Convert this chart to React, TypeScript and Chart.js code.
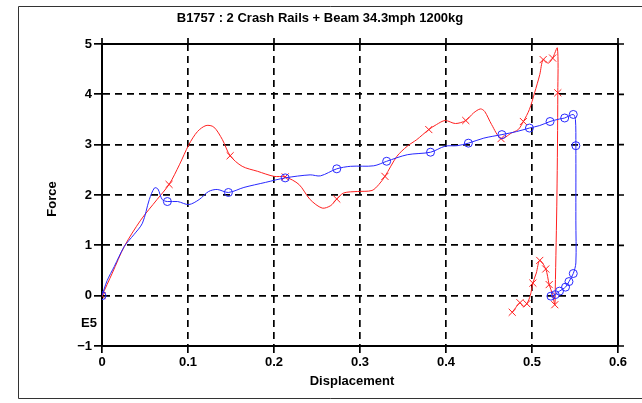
import React, { useEffect, useRef } from 'react';
import { Chart, registerables } from 'chart.js';

Chart.register(...registerables);

const TITLE = 'B1757 : 2 Crash Rails + Beam 34.3mph 1200kg';
const X_LABEL = 'Displacement';
const Y_LABEL = 'Force';
const Y_EXP = 'E5';

const xTickValues = [0, 0.1, 0.2, 0.3, 0.4, 0.5, 0.6];
const xTickLabels = ['0', '0.1', '0.2', '0.3', '0.4', '0.5', '0.6'];
const yTickValues = [-1, 0, 1, 2, 3, 4, 5];
const yTickLabels = ['\u22121', '0', '1', '2', '3', '4', '5'];

// Red series (crosses)
const redX = [0, 0.012, 0.026, 0.045, 0.064, 0.078, 0.09, 0.101, 0.111, 0.121, 0.13, 0.14, 0.149, 0.163, 0.181, 0.2, 0.213, 0.229, 0.242, 0.256, 0.266, 0.273, 0.281, 0.297, 0.314, 0.322, 0.329, 0.343, 0.355, 0.366, 0.38, 0.389, 0.399, 0.411, 0.423, 0.432, 0.44, 0.445, 0.453, 0.464, 0.476, 0.484, 0.49, 0.497, 0.503, 0.509, 0.513, 0.519, 0.524, 0.5295, 0.53, 0.529, 0.527, 0.5265, 0.524, 0.52, 0.516, 0.509, 0.505, 0.501, 0.498, 0.494, 0.49, 0.486, 0.481, 0.477];
const redY = [0, 0.45, 0.98, 1.5, 1.91, 2.21, 2.6, 3.0, 3.26, 3.38, 3.35, 3.1, 2.78, 2.57, 2.47, 2.37, 2.36, 2.21, 1.91, 1.74, 1.79, 1.92, 2.04, 2.07, 2.09, 2.21, 2.37, 2.77, 2.97, 3.1, 3.3, 3.4, 3.48, 3.42, 3.48, 3.63, 3.71, 3.66, 3.4, 3.12, 3.23, 3.3, 3.46, 3.7, 4.03, 4.39, 4.69, 4.62, 4.72, 4.92, 4.03, 2.0, 0.1, -0.18, 0.02, 0.22, 0.53, 0.7, 0.45, 0.25, 0.0, -0.16, -0.22, -0.14, -0.24, -0.33];
const redMark = [1, 0, 0, 0, 0, 1, 0, 0, 0, 0, 0, 0, 1, 0, 0, 0, 1, 0, 0, 0, 0, 1, 0, 0, 0, 0, 1, 0, 0, 0, 1, 0, 0, 0, 1, 0, 0, 0, 0, 1, 0, 0, 1, 0, 0, 0, 1, 0, 1, 0, 1, 0, 0, 1, 0, 1, 1, 1, 0, 1, 0, 1, 0, 1, 0, 1];

// Blue series (circles)
const blueX = [0, 0.006, 0.0143, 0.026, 0.037, 0.047, 0.055, 0.061, 0.065, 0.07, 0.076, 0.088, 0.101, 0.113, 0.124, 0.134, 0.147, 0.165, 0.19, 0.213, 0.242, 0.254, 0.273, 0.289, 0.316, 0.331, 0.355, 0.382, 0.399, 0.413, 0.426, 0.444, 0.465, 0.482, 0.497, 0.509, 0.521, 0.532, 0.538, 0.548, 0.5505, 0.551, 0.551, 0.551, 0.548, 0.543, 0.539, 0.532, 0.527, 0.522];
const blueY = [0, 0.3, 0.58, 0.98, 1.21, 1.44, 1.91, 2.14, 2.12, 1.91, 1.87, 1.87, 1.81, 1.91, 2.07, 2.11, 2.05, 2.15, 2.25, 2.34, 2.4, 2.38, 2.52, 2.57, 2.58, 2.67, 2.8, 2.85, 2.97, 2.98, 3.03, 3.13, 3.2, 3.26, 3.33, 3.38, 3.46, 3.51, 3.53, 3.6, 3.5, 2.98, 1.5, 0.65, 0.44, 0.28, 0.17, 0.09, 0.02, -0.01];
const blueMark = [1, 0, 0, 0, 0, 0, 0, 0, 0, 0, 1, 0, 0, 0, 0, 0, 1, 0, 0, 1, 0, 0, 1, 0, 0, 1, 0, 1, 0, 0, 1, 0, 1, 0, 1, 0, 1, 0, 1, 1, 0, 1, 0, 0, 1, 1, 1, 1, 1, 1];

const FONT = '"Liberation Sans", Arial, Helvetica, sans-serif';
const RED = '#ff2020';
const BLUE = '#2828ff';

const decorPlugin = {
  id: 'decor',
  afterDraw(chart: any) {
    const ctx = chart.ctx;
    const { left, right, top, bottom } = chart.chartArea;
    const xs = chart.scales.x;
    const ys = chart.scales.y;
    ctx.save();
    // outer frame
    ctx.strokeStyle = '#333';
    ctx.lineWidth = 1;
    ctx.beginPath();
    ctx.moveTo(642, 6.5);
    ctx.lineTo(18.5, 6.5);
    ctx.lineTo(18.5, 398.5);
    ctx.lineTo(642, 398.5);
    ctx.stroke();

    // top and right axis lines with outward ticks
    ctx.strokeStyle = '#000';
    ctx.lineWidth = 2;
    ctx.beginPath();
    ctx.moveTo(left, top);
    ctx.lineTo(right, top);
    ctx.moveTo(right, top);
    ctx.lineTo(right, bottom);
    ctx.stroke();
    ctx.lineWidth = 1.7;
    ctx.beginPath();
    xTickValues.forEach((v) => {
      const px = xs.getPixelForValue(v);
      ctx.moveTo(px, top);
      ctx.lineTo(px, top - 6);
    });
    yTickValues.forEach((v) => {
      const py = ys.getPixelForValue(v);
      ctx.moveTo(right, py);
      ctx.lineTo(right + 6, py);
    });
    ctx.stroke();

    // texts
    ctx.fillStyle = '#000';
    ctx.textAlign = 'center';
    ctx.textBaseline = 'middle';
    ctx.font = 'bold 13px ' + FONT;
    ctx.fillText(TITLE, 320, 18);
    ctx.fillText(X_LABEL, 352, 381);
    ctx.fillText(Y_EXP, 89, 323);
    ctx.save();
    ctx.translate(52, 199);
    ctx.rotate(-Math.PI / 2);
    ctx.fillText(Y_LABEL, 0, 0);
    ctx.restore();
    ctx.restore();
  },
};

function makeData(xsArr: number[], ysArr: number[]) {
  return xsArr.map((x, i) => ({ x, y: ysArr[i] }));
}

export default function App() {
  const ref = useRef<HTMLCanvasElement | null>(null);
  useEffect(() => {
    if (!ref.current) return;
    const chart = new Chart(ref.current, {
      type: 'scatter',
      data: {
        datasets: [
          {
            label: 'blue',
            data: makeData(blueX, blueY),
            showLine: true,
            borderColor: BLUE,
            backgroundColor: 'rgba(0,0,0,0)',
            borderWidth: 1,
            tension: 0.3,
            pointStyle: 'circle',
            pointRadius: blueMark.map((m) => (m ? 4 : 0)),
            pointBorderColor: BLUE,
            pointBorderWidth: 1,
            pointBackgroundColor: 'rgba(0,0,0,0)',
            pointHoverRadius: 0,
          },
          {
            label: 'red',
            data: makeData(redX, redY),
            showLine: true,
            borderColor: RED,
            backgroundColor: 'rgba(0,0,0,0)',
            borderWidth: 1,
            tension: 0.3,
            pointStyle: 'crossRot',
            pointRadius: redMark.map((m) => (m ? 5 : 0)),
            pointBorderColor: RED,
            pointBorderWidth: 1,
            pointHoverRadius: 0,
          },
        ],
      },
      options: {
        responsive: false,
        animation: false,
        events: [],
        layout: { padding: { left: 0, top: 44, right: 24, bottom: 0 } },
        plugins: {
          legend: { display: false },
          title: { display: false },
          tooltip: { enabled: false },
        },
        scales: {
          x: {
            type: 'linear',
            min: 0,
            max: 0.6,
            afterFit: (s: any) => {
              s.height = 57;
            },
            afterBuildTicks: (s: any) => {
              s.ticks = xTickValues.map((v) => ({ value: v }));
            },
            ticks: {
              color: '#000',
              font: { family: FONT, size: 13, weight: 'bold' },
              padding: 2,
              maxRotation: 0,
              autoSkip: false,
              callback: (v: any) => {
                const i = xTickValues.findIndex((t) => Math.abs(t - Number(v)) < 1e-9);
                return i >= 0 ? xTickLabels[i] : '';
              },
            },
            grid: {
              color: '#000',
              lineWidth: 1.7,
              tickLength: 7,
              tickColor: '#000',
              tickWidth: 1.7,
              tickBorderDash: [],
            },
            border: { display: true, color: '#000', width: 2, dash: [7, 5] },
          },
          y: {
            type: 'linear',
            min: -1,
            max: 5,
            afterFit: (s: any) => {
              s.width = 102;
            },
            afterBuildTicks: (s: any) => {
              s.ticks = yTickValues.map((v) => ({ value: v }));
            },
            ticks: {
              color: '#000',
              font: { family: FONT, size: 13, weight: 'bold' },
              padding: 2,
              autoSkip: false,
              callback: (v: any) => {
                const i = yTickValues.findIndex((t) => Math.abs(t - Number(v)) < 1e-9);
                return i >= 0 ? yTickLabels[i] : '';
              },
            },
            grid: {
              color: '#000',
              lineWidth: 1.7,
              tickLength: 8,
              tickColor: '#000',
              tickWidth: 1.7,
              tickBorderDash: [],
            },
            border: { display: true, color: '#000', width: 2, dash: [7, 5] },
          },
        },
      },
      plugins: [decorPlugin],
    } as any);
    return () => chart.destroy();
  }, []);
  return (
    <div style={{ position: 'absolute', left: 0, top: 0, width: 642, height: 403, background: '#fff' }}>
      <canvas ref={ref} width={642} height={403} style={{ display: 'block' }} />
    </div>
  );
}
